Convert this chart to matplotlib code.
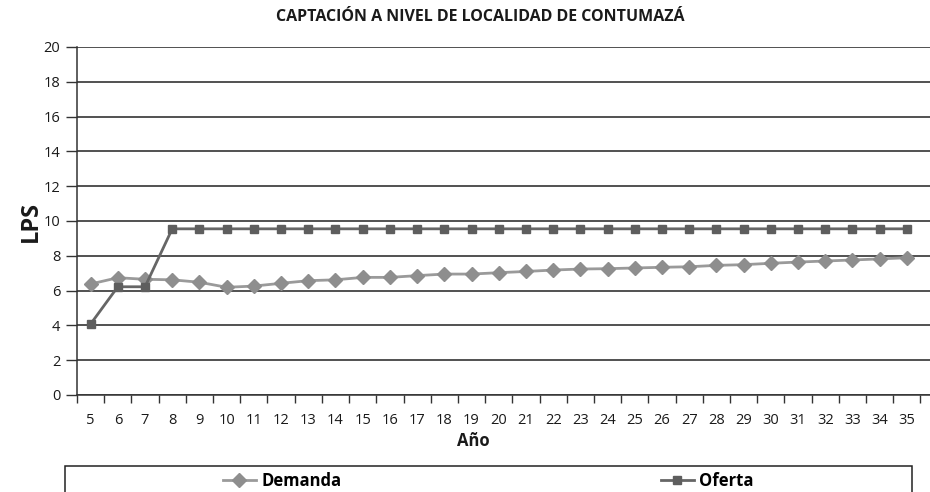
import matplotlib
matplotlib.use("Agg")
import matplotlib.pyplot as plt
from matplotlib.patches import Rectangle
from matplotlib import font_manager as fm

years = list(range(5, 36))
demanda = [6.38, 6.74, 6.65, 6.62, 6.48, 6.19, 6.26, 6.42, 6.57, 6.62,
           6.76, 6.76, 6.86, 6.95, 6.95, 7.03, 7.10, 7.18, 7.24, 7.26,
           7.30, 7.34, 7.37, 7.45, 7.49, 7.57, 7.64, 7.70, 7.76, 7.82, 7.89]
oferta = [4.08, 6.22, 6.22] + [9.55] * 28
y_ticks = list(range(0, 21, 2))

names = {f.name for f in fm.fontManager.ttflist}
base = "Open Sans" if "Open Sans" in names else "DejaVu Sans"
narrow = "Liberation Sans Narrow" if "Liberation Sans Narrow" in names else base
plt.rcParams['font.family'] = [base, 'DejaVu Sans']

W, H = 930, 492
fig = plt.figure(figsize=(W / 100, H / 100), dpi=100)
ax = fig.add_axes([77 / W, 1 - 395 / H, (930 - 77) / W, (395 - 47) / H])

x = list(range(len(years)))
ax.plot(x, demanda, color="#9a9a9a", lw=2.0, marker="D", ms=7.5,
        mfc="#8e8e8e", mec="#8e8e8e", label="Demanda", zorder=3)
ax.plot(x, oferta, color="#666666", lw=2.0, marker="s", ms=6,
        mfc="#5e5e5e", mec="#5e5e5e", label="Oferta", zorder=4)

ax.set_ylim(0, 20)
ax.set_yticks(y_ticks)
ax.set_xlim(-0.5, len(years) - 0.5 + 0.35)
ax.set_xticks(x)
ax.set_xticklabels([str(y) for y in years])
ax.set_xticks([i - 0.5 for i in range(len(years) + 1)], minor=True)
ax.tick_params(axis="x", which="major", length=0, pad=13, labelsize=10.5, colors="#1a1a1a")
ax.tick_params(axis="x", which="minor", length=6, width=1.0, color="#333333", direction="out")
ax.tick_params(axis="y", length=8, width=1.0, color="#333333", labelsize=10.5, pad=4,
               labelcolor="#1a1a1a")

ax.grid(axis="y", color="#222222", lw=1.1)
ax.set_axisbelow(True)
for s in ["top", "right"]:
    ax.spines[s].set_visible(False)
for s in ["left", "bottom"]:
    ax.spines[s].set_color("#333333")
    ax.spines[s].set_linewidth(1.1)

fig.text(480 / W, 1 - 17 / H, "CAPTACIÓN A NIVEL DE LOCALIDAD DE CONTUMAZÁ",
         ha="center", va="center", fontsize=11.5, fontweight="bold",
         family=[narrow, 'DejaVu Sans'], color="#1a1a1a")
fig.text(31 / W, 1 - 221 / H, "LPS", rotation=90, ha="center", va="center",
         fontsize=17, fontweight="bold", color="#1a1a1a")
fig.text(473 / W, 1 - 441 / H, "Año", ha="center", va="center",
         fontsize=12, fontweight="bold", color="#1a1a1a")

# legend box
fig.patches.append(Rectangle((65 / W, -0.05), (912 - 65) / W, 0.05 + (492 - 466) / H,
                             transform=fig.transFigure, fill=False,
                             edgecolor="#222222", lw=1.1))
h1, h2 = ax.get_lines()
for handle, cx in [(h1, 282), (h2, 707)]:
    fig.legend([handle], [handle.get_label()], loc="center",
               bbox_to_anchor=(cx / W, 1 - 481 / H), frameon=False,
               prop={"weight": "bold", "size": 12}, handlelength=2.0,
               handletextpad=0.3, borderpad=0)

fig.savefig("out.png", dpi=100)
